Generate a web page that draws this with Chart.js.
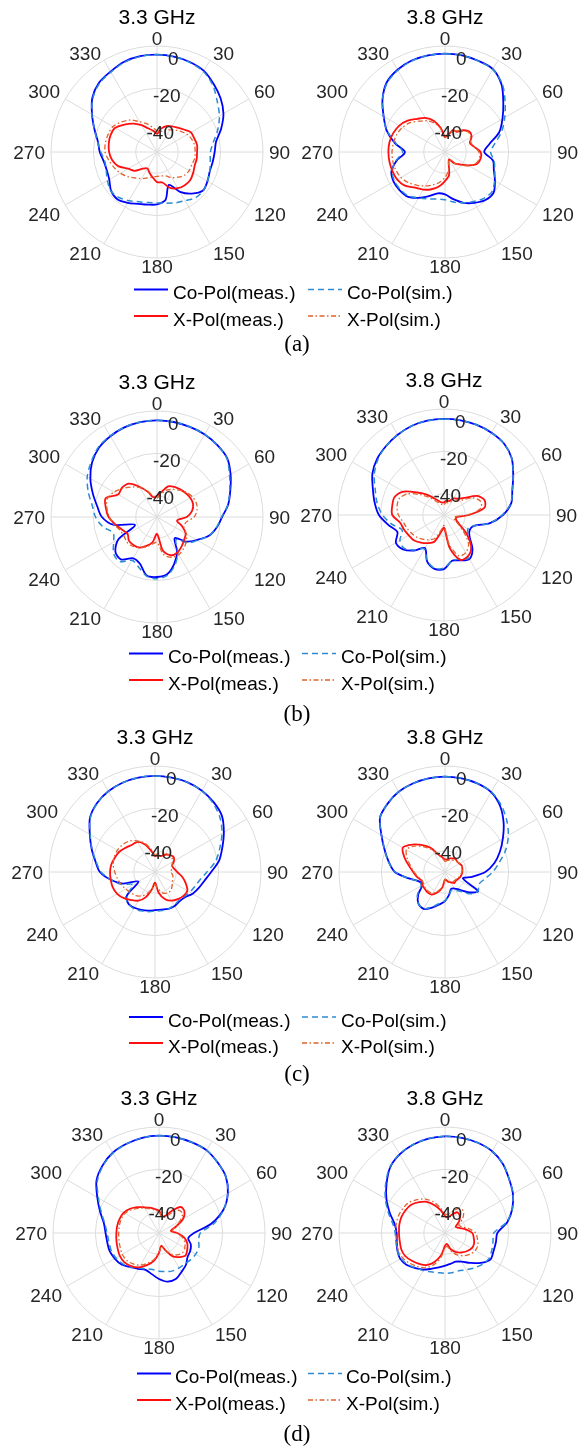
<!DOCTYPE html>
<html>
<head>
<meta charset="utf-8">
<script src="https://cdn.jsdelivr.net/npm/chart.js@4.4.1/dist/chart.umd.min.js"></script>
<style>
  html, body { margin: 0; padding: 0; background: #fff; }
  body { width: 579px; height: 1453px; position: relative; overflow: hidden; font-family: 'Liberation Sans', Arial, sans-serif; }
  canvas.plot { position: absolute; }
  .title { position: absolute; font-size: 21px; color: #000; line-height: 1; white-space: nowrap; transform: translate(-50%, -50%); }
  .leg { position: absolute; font-size: 19px; color: #000; line-height: 1; white-space: nowrap; transform: translateY(-50%); }
  .cap { position: absolute; font-family: 'Liberation Serif', 'Times New Roman', serif; font-size: 23px; color: #000; line-height: 1; transform: translate(-50%, -50%); }
  svg.legline { position: absolute; left: 0; top: 0; overflow: visible; }
</style>
</head>
<body>
<script>
// angle of each sample, clockwise from the top (deg)
const ANGLES = [0, 10, 20, 30, 40, 50, 60, 70, 80, 90, 100, 110, 120, 130, 140, 150, 160, 170,
                180, 190, 200, 210, 220, 230, 240, 250, 260, 270, 280, 290, 300, 310, 320, 330, 340, 350];
const RING_TICKS = [0, -20, -40];

// (a)
const A33_CO_MEAS = [-4.1,-4.3,-4.8,-5.8,-8.3,-10.8,-13.8,-17.8,-21.7,-22.8,-23.3,-23.5,-22.5,-21.7,-24.4,-28.3,-33.5,-27,-25.3,-24.8,-24,-22.3,-20.9,-21.7,-24,-24.8,-24.5,-23,-21.7,-18.6,-14.6,-10.2,-7.4,-6.2,-4.7,-4.1];
const A33_CO_SIM = [-4.1,-4.3,-5,-6.2,-9,-12.9,-16,-19.5,-23,-24.8,-24.5,-23.5,-22.5,-21.5,-21.8,-23.5,-24.5,-25.5,-26,-25.8,-25,-23.5,-22,-21.5,-23,-24.5,-25,-23.5,-21.5,-18.5,-14.5,-10.5,-7.8,-6.5,-5,-4.3];
const A33_X_MEAS = [-41.4,-38.8,-37,-36,-35,-33.5,-31.5,-31.3,-30.8,-31.1,-31,-31.1,-30.3,-29.5,-29.6,-30.3,-32,-35.4,-35.8,-37.9,-39.6,-41,-39.8,-36.2,-34.3,-30.5,-28.5,-27.4,-26.9,-26.7,-27.2,-29.9,-32.5,-35.4,-38.2,-39.8];
const A33_X_SIM = [-40,-40,-39,-38,-36.5,-35,-33.5,-32.5,-32,-32,-32,-32.5,-32.5,-33,-34.5,-36,-38,-38.5,-38.5,-38,-37,-35.5,-34,-32,-30,-28.5,-27,-25.5,-25.3,-25.5,-26,-28,-30.3,-33.5,-35.8,-38.2];
const A38_CO_MEAS = [-3.6,-3.7,-4.2,-4.8,-8.5,-14.1,-18.7,-22.8,-28.8,-31.5,-27,-25.5,-22.8,-20.1,-20.4,-22.3,-24.5,-27.4,-30,-30.2,-27.8,-25,-22.5,-22,-22,-23.1,-26.9,-31.1,-26,-20.8,-16.6,-11.5,-7.2,-5.2,-4.1,-3.7];
const A38_CO_SIM = [-3.6,-3.8,-4.3,-5,-8,-13,-17.5,-21.5,-26,-28.5,-26.5,-25,-23,-21,-21.5,-23,-24.5,-26,-27.5,-27.5,-26.5,-25,-23,-22.5,-22.5,-23.5,-26.5,-30,-26.5,-21,-16.5,-11.5,-7.5,-5.5,-4.3,-3.8];
const A38_X_MEAS = [-43,-42,-39,-39,-36.6,-35,-35.5,-37.5,-36,-33.2,-32.9,-33.8,-37.4,-40.9,-43,-46,-45,-39,-36.3,-33.5,-31.3,-29.5,-28,-25.3,-24,-23.6,-23.4,-23.3,-23.4,-24,-25.1,-27,-29.6,-31.4,-34.3,-38.5];
const A38_X_SIM = [-43,-41,-39.5,-38.5,-37,-35.5,-36,-37,-36,-34,-33.5,-34.5,-37,-40.5,-43,-46,-45,-41,-38,-35.5,-33.5,-31.5,-29.5,-27.5,-26,-25.3,-25,-25,-25.3,-25.8,-26.8,-28.5,-31,-33,-35.5,-39];

// (b)
const B33_CO_MEAS = [-4.4,-4.5,-4.8,-5,-5.7,-6.8,-9.9,-13.2,-15.9,-19.3,-21.4,-24,-28.3,-32,-37,-31,-26.4,-22.6,-21.7,-22,-26.5,-27.5,-23.8,-24.4,-29,-39,-29,-24,-21.4,-17.8,-13.7,-10,-7.4,-6,-5,-4.5];
const B33_CO_SIM = [-4.4,-4.5,-4.7,-5,-5.8,-7,-10.5,-13.5,-16,-19.5,-21.5,-24,-28,-31,-36,-30.3,-25.6,-22,-20.9,-21.7,-24.8,-26.4,-22.5,-23.3,-26.4,-28,-24,-21,-19,-15.5,-12,-9.5,-7,-5.8,-5,-4.5];
const B33_X_MEAS = [-40,-38,-34.6,-33.6,-33,-32.4,-31.9,-31.9,-33.2,-36,-40.4,-37.4,-34.4,-33.3,-31.9,-30.7,-30.8,-33.8,-42,-37.9,-35.5,-33.3,-32.7,-32.7,-34,-32.5,-30,-27.2,-25.5,-24.2,-28.8,-28.5,-29.4,-33.5,-37.4,-40.6];
const B33_X_SIM = [-41,-39,-36.5,-35,-33.5,-32,-30.8,-30.3,-30.8,-32.5,-36,-36.5,-34,-32,-30.5,-29.5,-29.8,-32,-38,-37,-35,-33.5,-32,-31.5,-32,-31.5,-29.5,-27.5,-26,-25,-26.5,-29,-31.5,-34,-37,-40];
const B38_CO_MEAS = [-4.7,-4.7,-4.8,-5.2,-6,-8.3,-12.3,-15.7,-17.8,-22.2,-28,-35,-36,-34.3,-29.1,-26,-27.2,-28.1,-24.5,-24.2,-26.7,-32,-28.1,-24.8,-23.8,-26.6,-23.3,-19.3,-16.8,-14.3,-11,-8.8,-7.5,-6.3,-5.3,-4.8];
const B38_CO_SIM = [-4.7,-4.7,-4.8,-5.2,-6,-8.3,-12.3,-15.7,-18,-22.5,-28,-35,-37,-35,-30,-26.5,-28,-28,-25,-24.5,-27,-31.5,-28.5,-25.5,-26,-29,-25,-21,-18,-15.5,-12,-9.3,-7.5,-6.3,-5.3,-4.8];
const B38_X_MEAS = [-44,-43,-43,-41,-40,-37.4,-32,-29.6,-30.7,-38.2,-44,-44,-42,-36,-30,-27.5,-27.5,-34,-44,-41.7,-36.6,-34.7,-33,-31.4,-30.8,-29.9,-29,-25.6,-25.2,-25.2,-28,-33.5,-37.4,-41,-43,-44];
const B38_X_SIM = [-45,-44,-44,-42.5,-41.5,-39,-34,-31.5,-32.5,-39,-45,-45,-43,-38,-32,-29.5,-29.5,-36,-45,-43,-38.5,-36.5,-35,-33.5,-32.5,-31.5,-30.5,-28.5,-27.5,-27.5,-30,-35,-39,-42.5,-44,-45];

// (c)
const C33_CO_MEAS = [-4.7,-4.8,-5,-5.7,-7,-8.8,-12.5,-16.2,-19.3,-23.5,-26.3,-28,-29.5,-31.5,-32,-31.5,-31.5,-32,-32,-31.5,-31,-30.5,-30.5,-32.7,-41,-34,-28.8,-24,-21.5,-18.2,-14.5,-10,-7.5,-6,-5.2,-4.8];
const C33_CO_SIM = [-4.7,-4.8,-5,-5.8,-7.5,-10,-13.5,-17.5,-21,-25.5,-28.5,-30,-31,-32,-32.5,-32,-31.5,-31.5,-31.5,-31,-30.5,-30,-30.5,-32,-38,-33,-29,-24.5,-21.8,-18.4,-14.7,-10.2,-7.6,-6,-5.2,-4.8];
const C33_X_MEAS = [-42.5,-42,-42,-40.6,-39.5,-38.7,-39.6,-41.4,-40.9,-39.5,-37,-34.6,-32.4,-32.5,-33.3,-34.4,-36.5,-40.1,-45,-41.7,-37.4,-34.4,-32.7,-30.8,-29.4,-28.8,-28.8,-28.8,-29.1,-29.9,-30.7,-32.1,-33.2,-33.6,-36.2,-39.9];
const C33_X_SIM = [-42,-41,-40.5,-40,-39.5,-39.5,-40.5,-41.5,-42,-42.5,-41.5,-41,-40.5,-39.5,-38.5,-38.5,-39.5,-42,-44,-42,-39,-37,-35.5,-35,-34,-33,-32,-31,-30,-29.5,-29.5,-30,-31,-33,-35.5,-39];
const C38_CO_MEAS = [-5,-5.2,-5.5,-6.5,-9.5,-13.9,-18.5,-22.5,-26.4,-31,-37,-41,-32,-35,-39,-41,-41.5,-39,-36.3,-34.4,-32.1,-29.9,-30.5,-33.5,-37.6,-37,-32.7,-26.3,-23.1,-19.7,-15.4,-10,-7.9,-6.3,-5.6,-5.2];
const C38_CO_SIM = [-5,-5.2,-5.5,-6.3,-8.8,-12,-15.5,-19.5,-24,-27.5,-31,-33,-32,-34,-38,-40,-41,-39,-36.5,-35,-32.5,-30,-30.5,-33,-37,-37,-32.5,-26.5,-23,-19.7,-15.4,-10,-7.9,-6.3,-5.6,-5.2];
const C38_X_MEAS = [-44,-44,-43.2,-42.6,-42.1,-42.5,-42.1,-41.5,-41.7,-41.8,-42.1,-42.5,-43.2,-43.4,-43.2,-44.3,-45,-46,-46.5,-42.5,-39.8,-37.7,-37.3,-37.6,-37.7,-38.2,-36.6,-35,-32.7,-29.6,-27,-29.9,-33.5,-37.1,-41.4,-43];
const C38_X_SIM = [-45,-44.5,-44,-43.5,-43,-42.5,-42,-41.5,-41.5,-42,-42.5,-43,-43.5,-44,-44,-44.5,-45.5,-46,-46.5,-43,-40.5,-38.5,-38,-38,-38.5,-38.5,-37,-35.5,-33.5,-31,-29,-31,-34.5,-38,-41.5,-43.5];

// (d)
const D33_CO_MEAS = [-4.1,-4.2,-4.5,-5,-6.8,-8.8,-12.5,-17.6,-25,-33.5,-36,-34,-33,-32.4,-30.3,-28.8,-26.9,-26.7,-28.3,-30.3,-31.5,-30.5,-29,-26.9,-25.9,-25.2,-25.2,-24.8,-23.6,-20.4,-16.4,-11.5,-8.5,-6.3,-5.2,-4.4];
const D33_CO_SIM = [-4.1,-4.2,-4.5,-5,-6.8,-8.8,-12.5,-17.5,-23.5,-30.5,-31,-30,-30,-30.5,-31,-31,-31,-31.5,-32,-32.5,-32,-31,-29,-27.5,-26.5,-26,-26,-25.5,-24,-21,-17,-12,-8.8,-6.5,-5.3,-4.4];
const D33_X_MEAS = [-39.5,-42,-41.4,-38,-34,-34.3,-37,-41.7,-44.3,-41.4,-38,-35.8,-34.6,-33.6,-35.2,-37.4,-41.4,-43.9,-40.6,-36.8,-34,-31.3,-29.6,-28.6,-28.6,-29.2,-29.6,-29.9,-30,-30.3,-30.8,-32.2,-34.1,-36,-37.3,-38.5];
const D33_X_SIM = [-40,-42,-42,-39.5,-36,-35.5,-38.5,-42,-43.5,-41.5,-39,-37,-36,-35.5,-36.5,-38.5,-41.5,-43.5,-41,-37.5,-35,-32.5,-31,-30,-30,-30.5,-30.8,-31,-31,-31,-31.5,-33,-34.8,-36.5,-37.8,-39];
const D38_CO_MEAS = [-4.4,-4.4,-4.7,-5.5,-7.5,-10.5,-13,-16.2,-20.1,-25.3,-25.6,-25.6,-25.2,-28,-31.6,-34.4,-35.6,-35.2,-34.6,-33.5,-32.1,-30,-28.3,-26.5,-25.6,-26.1,-26.9,-27.2,-25.9,-22.3,-18.1,-14,-9.7,-7.2,-5.7,-4.8];
const D38_CO_SIM = [-4.4,-4.4,-4.7,-5.5,-7.5,-10.5,-13,-16.2,-20.5,-27,-27,-26.5,-26,-27,-28.5,-30,-31,-31,-31,-31,-30.5,-29.5,-28.5,-27,-26,-26,-26.5,-26.5,-25,-21.5,-17.5,-13.5,-9.5,-7,-5.7,-4.8];
const D38_X_MEAS = [-42,-42.5,-40.9,-38.7,-39.2,-41.2,-44.2,-43,-40.1,-37.1,-36.2,-35.4,-35.5,-36.6,-38,-39.6,-41.7,-44.7,-44,-39.3,-35.5,-32.5,-31,-29.6,-28.3,-28,-28.3,-28.3,-28.1,-28.1,-28.5,-29.2,-31,-33,-36.2,-39.3];
const D38_X_SIM = [-41,-41,-39,-36.5,-36.5,-39,-42.5,-41.5,-38.5,-35.5,-34.5,-33.5,-33.5,-34.5,-36,-38,-40.5,-43.5,-43,-38,-34,-31,-29.5,-28,-26.8,-26.5,-26.8,-26.8,-26.6,-26.6,-27,-27.7,-29.5,-31.5,-34.5,-38];

// series styles, in legend order
const SERIES = [
  { label: 'Co-Pol(meas.)', color: '#0000ff', width: 1.8, dash: [] },
  { label: 'Co-Pol(sim.)',  color: '#2c8bd4', width: 1.5, dash: [6, 4] },
  { label: 'X-Pol(meas.)',  color: '#ff0f0f', width: 1.8, dash: [] },
  { label: 'X-Pol(sim.)',   color: '#e0622c', width: 1.3, dash: [5, 2.5, 1.5, 2.5] }
];

const R = 106, M = 50;
const GRID = '#dcdcdc';
const TEXT = '#262626';
const FONT = '"Liberation Sans", Arial, sans-serif';
// small vertical nudges of the angle labels (MATLAB-like placement)
const THETA_DY = { 60: -3, 300: -3, 90: 2, 270: 2, 120: 8, 240: 8, 150: 6, 210: 6, 180: 4 };

const PANELS = [
  { title: '3.3 GHz', cx: 157, cy: 152, data: [A33_CO_MEAS, A33_CO_SIM, A33_X_MEAS, A33_X_SIM] },
  { title: '3.8 GHz', cx: 445, cy: 152, data: [A38_CO_MEAS, A38_CO_SIM, A38_X_MEAS, A38_X_SIM] },
  { title: '3.3 GHz', cx: 157, cy: 517, data: [B33_CO_MEAS, B33_CO_SIM, B33_X_MEAS, B33_X_SIM] },
  { title: '3.8 GHz', cx: 444, cy: 515, data: [B38_CO_MEAS, B38_CO_SIM, B38_X_MEAS, B38_X_SIM] },
  { title: '3.3 GHz', cx: 155, cy: 872, data: [C33_CO_MEAS, C33_CO_SIM, C33_X_MEAS, C33_X_SIM] },
  { title: '3.8 GHz', cx: 445, cy: 872, data: [C38_CO_MEAS, C38_CO_SIM, C38_X_MEAS, C38_X_SIM] },
  { title: '3.3 GHz', cx: 159, cy: 1233, data: [D33_CO_MEAS, D33_CO_SIM, D33_X_MEAS, D33_X_SIM] },
  { title: '3.8 GHz', cx: 445, cy: 1233, data: [D38_CO_MEAS, D38_CO_SIM, D38_X_MEAS, D38_X_SIM] }
];

const ROWS = [
  { caption: '(a)', capY: 343, y1: 289.5, y2: 316, x1: 134, t1: 173, x2: 308, t2: 347 },
  { caption: '(b)', capY: 713, y1: 653.5, y2: 680, x1: 129, t1: 168, x2: 302, t2: 341 },
  { caption: '(c)', capY: 1073, y1: 1017, y2: 1043, x1: 129, t1: 168, x2: 302, t2: 341 },
  { caption: '(d)', capY: 1433, y1: 1373.5, y2: 1400, x1: 137, t1: 175, x2: 308, t2: 346 }
];

const polarLabels = {
  id: 'polarLabels',
  afterDraw(chart) {
    const s = chart.scales.r;
    const ctx = chart.ctx;
    ctx.save();
    ctx.font = '19px ' + FONT;
    ctx.fillStyle = TEXT;
    ctx.textBaseline = 'middle';
    ANGLES.forEach((a, i) => {
      if (a % 30 !== 0) return;
      const p = s.getPointPosition(i, s.drawingArea + 6);
      ctx.textAlign = (a === 0 || a === 180) ? 'center' : (a < 180 ? 'left' : 'right');
      ctx.fillText(String(a), p.x, p.y + (THETA_DY[a] || 0));
    });
    ctx.textAlign = 'center';
    RING_TICKS.forEach(v => {
      const p = s.getPointPosition(1, s.getDistanceFromCenterForValue(v) * 0.88);
      ctx.fillText(String(v), p.x, p.y);
    });
    ctx.restore();
  }
};

function addText(cls, text, x, y) {
  const d = document.createElement('div');
  d.className = cls;
  d.textContent = text;
  d.style.left = x + 'px';
  d.style.top = y + 'px';
  document.body.appendChild(d);
}

PANELS.forEach(p => {
  const size = 2 * (R + M);
  const cv = document.createElement('canvas');
  cv.className = 'plot';
  cv.width = size;
  cv.height = size;
  cv.style.left = (p.cx - R - M) + 'px';
  cv.style.top = (p.cy - R - M) + 'px';
  document.body.appendChild(cv);

  new Chart(cv.getContext('2d'), {
    type: 'radar',
    data: {
      labels: ANGLES,
      datasets: p.data.map((vals, k) => ({
        label: SERIES[k].label,
        data: vals,
        borderColor: SERIES[k].color,
        borderWidth: SERIES[k].width,
        borderDash: SERIES[k].dash,
        fill: false,
        pointRadius: 0,
        tension: 0.3,
        order: 4 - k
      }))
    },
    options: {
      responsive: false,
      animation: false,
      events: [],
      layout: { padding: M },
      plugins: { legend: { display: false }, tooltip: { enabled: false } },
      scales: {
        r: {
          min: -50,
          max: 0,
          startAngle: 0,
          ticks: { stepSize: 10, display: false },
          pointLabels: { display: false },
          grid: {
            circular: true,
            lineWidth: 1,
            color: ctx => (ctx.tick && ctx.tick.value % 20 === 0) ? GRID : 'rgba(0,0,0,0)'
          },
          angleLines: {
            color: GRID,
            lineWidth: ctx => ANGLES[ctx.index] % 30 === 0 ? 1 : 0
          }
        }
      }
    },
    plugins: [polarLabels]
  });

  addText('title', p.title, p.cx, p.cy - 136);
});

// legends and captions
const svgNS = 'http://www.w3.org/2000/svg';
const svg = document.createElementNS(svgNS, 'svg');
svg.setAttribute('class', 'legline');
svg.setAttribute('width', '579');
svg.setAttribute('height', '1453');
document.body.appendChild(svg);

function legLine(x, y, s) {
  const l = document.createElementNS(svgNS, 'line');
  l.setAttribute('x1', x);
  l.setAttribute('x2', x + 34);
  l.setAttribute('y1', y);
  l.setAttribute('y2', y);
  l.setAttribute('stroke', s.color);
  l.setAttribute('stroke-width', s.width);
  if (s.dash.length) l.setAttribute('stroke-dasharray', s.dash.join(' '));
  svg.appendChild(l);
}

ROWS.forEach(r => {
  legLine(r.x1, r.y1, SERIES[0]);
  addText('leg', SERIES[0].label, r.t1, r.y1 + 2.5);
  legLine(r.x2, r.y1, SERIES[1]);
  addText('leg', SERIES[1].label, r.t2, r.y1 + 2.5);
  legLine(r.x1, r.y2, SERIES[2]);
  addText('leg', SERIES[2].label, r.t1, r.y2 + 2.5);
  legLine(r.x2, r.y2, SERIES[3]);
  addText('leg', SERIES[3].label, r.t2, r.y2 + 2.5);
  addText('cap', r.caption, 297, r.capY);
});
</script>
</body>
</html>
